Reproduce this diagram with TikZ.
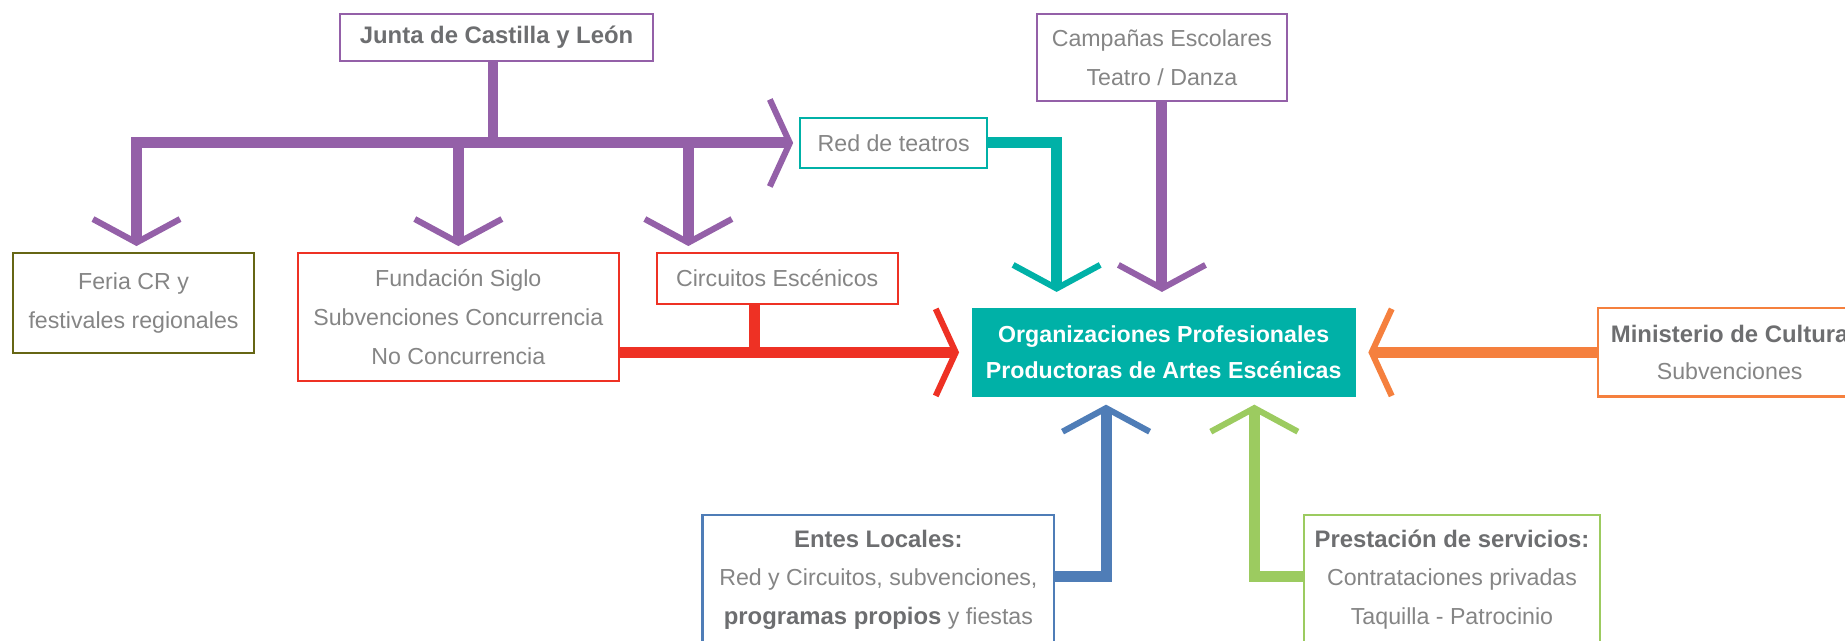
\documentclass[tikz,border=0pt]{standalone}
\usepackage{fontspec}
\setmainfont{Liberation Sans}
\usetikzlibrary{arrows.meta,calc}
\definecolor{cpurp}{HTML}{9460A8}
\definecolor{cteal}{HTML}{00B1A7}
\definecolor{cred}{HTML}{EE3124}
\definecolor{corange}{HTML}{F5803E}
\definecolor{cblue}{HTML}{4F7DB7}
\definecolor{cgreen}{HTML}{9CCB60}
\definecolor{colive}{HTML}{666614}
\definecolor{ctxt}{HTML}{858585}
\definecolor{cbold}{HTML}{6D6E70}
\newcommand\bt[1]{\textcolor{cbold}{\bfseries\fontsize{20.3}{33}\selectfont #1}}
\begin{document}
\begin{tikzpicture}[x=1pt,y=-1pt,
  basebox/.style={draw, line width=1.8pt, inner sep=0pt, text=ctxt, font=\fontsize{19.7}{33}\selectfont},
  box/.style={basebox, align=center},
  conn/.style={line width=9.3pt, line join=miter},
  tipd/.style={-{Straight Barb[length=20pt,width=74pt,line width=5.2pt,sharp]}},
  tiph/.style={-{Straight Barb[length=17pt,width=74pt,line width=5.2pt,sharp]}},
]
\useasboundingbox (0,0) rectangle (1568,544);

% boxes
\node[box, draw=cpurp, minimum width=266pt, minimum height=40pt] (junta) at (422,32) {\bt{Junta de Castilla y León}};
\node[box, draw=cpurp, minimum width=213pt, minimum height=74pt] (camp) at (987.5,49) {Campañas Escolares\\Teatro / Danza};
\node[box, draw=cteal, minimum width=159pt, minimum height=43pt] (red) at (759.5,121.5) {Red de teatros};
\node[box, draw=colive, minimum width=205pt, minimum height=85pt] (feria) at (113.5,257.5) {Feria CR y\\festivales regionales};
\node[box, draw=cred, minimum width=273pt, minimum height=109pt] (fund) at (389.5,269.5) {Fundación Siglo\\Subvenciones Concurrencia\\No Concurrencia};
\node[box, draw=cred, minimum width=205pt, minimum height=43pt] (circ) at (660.5,236.5) {Circuitos Escénicos};
\node[box, draw=none, fill=cteal, text=white, font=\fontsize{19.7}{31}\selectfont\bfseries, minimum width=326pt, minimum height=75pt] (org) at (989,299.5) {Organizaciones Profesionales\\Productoras de Artes Escénicas};
\node[box, draw=corange, minimum width=224pt, minimum height=75pt, font=\fontsize{19.7}{31}\selectfont] (min) at (1470,299.5) {\bt{Ministerio de Cultura}\\Subvenciones};
\node[basebox, draw=cblue, anchor=north, minimum width=299pt, inner ysep=4pt, text depth=100pt] (entes) at (746.5,437)
  {\begin{tabular}[t]{@{}c@{}}\bt{Entes Locales:}\\Red y Circuitos, subvenciones,\\\bt{programas propios} y fiestas\end{tabular}};
\node[basebox, draw=cgreen, anchor=north, minimum width=252pt, inner ysep=4pt, text depth=100pt] (pres) at (1234,437)
  {\begin{tabular}[t]{@{}c@{}}\bt{Prestación de servicios:}\\Contrataciones privadas\\Taquilla - Patrocinio\end{tabular}};

% connectors
\coordinate (jb) at ($(junta.south)+(-3,0)$);
\draw[cpurp, conn] (jb) -- (jb |- red.west);
\coordinate (fb) at ($(feria.north)+(2.5,0)$);
\draw[cpurp, conn, arrows={Straight Barb[length=20pt,width=74pt,line width=5.2pt,sharp]}-{Straight Barb[length=17pt,width=74pt,line width=5.2pt,sharp]}, shorten <=5pt, shorten >=5pt]
  (fb) -- (fb |- red.west) -- (red.west);
\draw[cpurp, conn, tipd, shorten >=5pt] (fund.north |- red.west) -- (fund.north);
\coordinate (cb) at (585,121.5);
\draw[cpurp, conn, tipd, shorten >=5pt] (cb) -- (cb |- circ.north);
\draw[cteal, conn, tipd, shorten >=13pt] (red.east) -| ($(org.north)+(-91,0)$);
\draw[cpurp, conn, tipd, shorten >=13pt] (camp.south) -- (camp.south |- org.north);
\draw[cred, conn, tiph, shorten >=10pt] (fund.east |- org.west) -- (org.west);
\coordinate (cc) at ($(circ.south)+(-19,0)$);
\draw[cred, conn] (cc) -- (cc |- org.west);
\draw[corange, conn, tiph, shorten >=10pt] (min.west) -- (org.east);
\coordinate (bj) at (940,490);
\draw[cblue, conn, tipd, shorten >=6pt] (entes.east |- bj) -- (bj) -- (bj |- org.south);
\coordinate (gj) at (1066,490);
\draw[cgreen, conn, tipd, shorten >=6pt] (pres.west |- gj) -- (gj) -- (gj |- org.south);
\end{tikzpicture}
\end{document}
